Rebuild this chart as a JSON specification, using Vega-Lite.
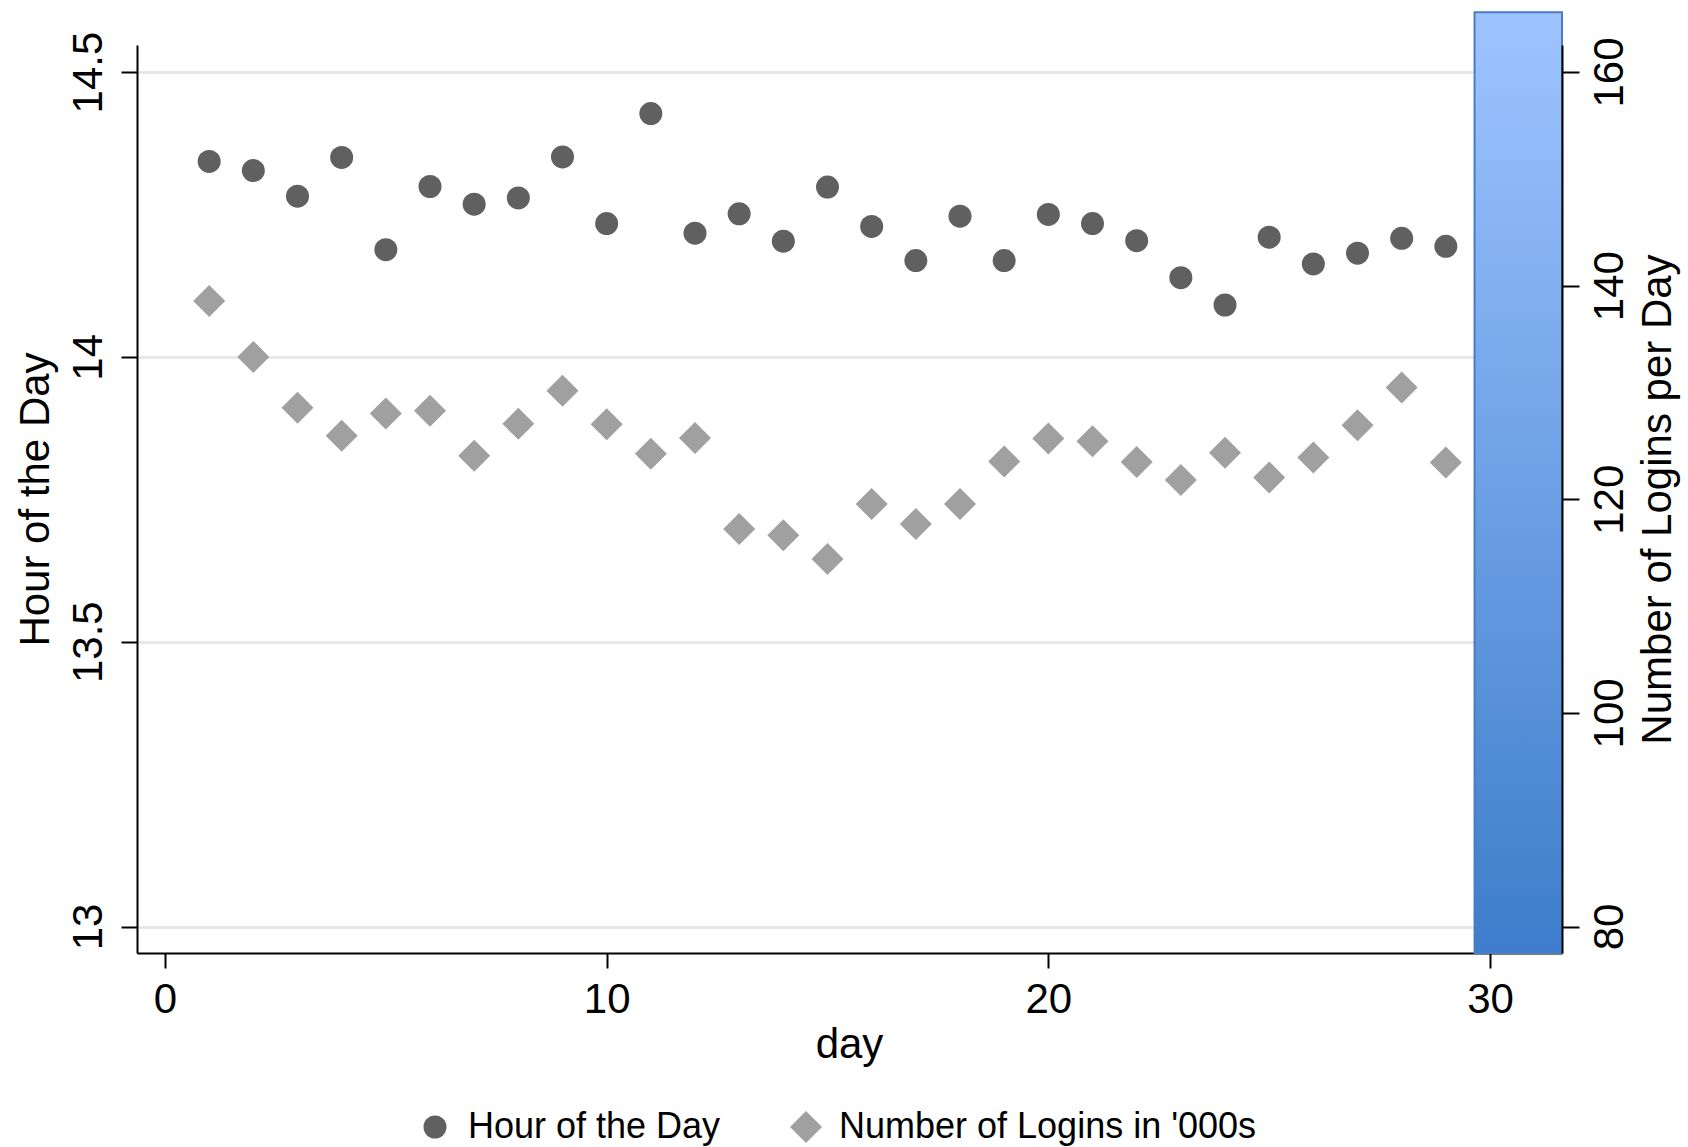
{
  "$schema": "https://vega.github.io/schema/vega-lite/v6.json",
  "width": 1425,
  "height": 908,
  "autosize": {"type": "none"},
  "padding": {"left": 137, "top": 45, "right": 126, "bottom": 194},
  "background": "white",
  "config": {
    "font": "Liberation Sans",
    "view": {"stroke": null},
    "axis": {
      "domainColor": "black",
      "domainWidth": 2,
      "tickColor": "black",
      "tickWidth": 2,
      "labelColor": "black",
      "titleColor": "black",
      "labelFont": "Liberation Sans",
      "titleFont": "Liberation Sans",
      "labelFontSize": 42,
      "titleFontSize": 42,
      "labelFontWeight": "normal",
      "titleFontWeight": "normal"
    },
    "legend": {
      "labelFont": "Liberation Sans",
      "labelFontSize": 36,
      "labelColor": "black",
      "labelLimit": 0
    }
  },
  "layer": [
    {
      "data": {
        "values": [
          {"day": 1, "hour": 14.343, "series": "Hour of the Day"},
          {"day": 2, "hour": 14.327, "series": "Hour of the Day"},
          {"day": 3, "hour": 14.282, "series": "Hour of the Day"},
          {"day": 4, "hour": 14.350, "series": "Hour of the Day"},
          {"day": 5, "hour": 14.188, "series": "Hour of the Day"},
          {"day": 6, "hour": 14.299, "series": "Hour of the Day"},
          {"day": 7, "hour": 14.268, "series": "Hour of the Day"},
          {"day": 8, "hour": 14.279, "series": "Hour of the Day"},
          {"day": 9, "hour": 14.351, "series": "Hour of the Day"},
          {"day": 10, "hour": 14.234, "series": "Hour of the Day"},
          {"day": 11, "hour": 14.427, "series": "Hour of the Day"},
          {"day": 12, "hour": 14.217, "series": "Hour of the Day"},
          {"day": 13, "hour": 14.251, "series": "Hour of the Day"},
          {"day": 14, "hour": 14.203, "series": "Hour of the Day"},
          {"day": 15, "hour": 14.298, "series": "Hour of the Day"},
          {"day": 16, "hour": 14.229, "series": "Hour of the Day"},
          {"day": 17, "hour": 14.169, "series": "Hour of the Day"},
          {"day": 18, "hour": 14.247, "series": "Hour of the Day"},
          {"day": 19, "hour": 14.169, "series": "Hour of the Day"},
          {"day": 20, "hour": 14.250, "series": "Hour of the Day"},
          {"day": 21, "hour": 14.234, "series": "Hour of the Day"},
          {"day": 22, "hour": 14.204, "series": "Hour of the Day"},
          {"day": 23, "hour": 14.139, "series": "Hour of the Day"},
          {"day": 24, "hour": 14.091, "series": "Hour of the Day"},
          {"day": 25, "hour": 14.210, "series": "Hour of the Day"},
          {"day": 26, "hour": 14.163, "series": "Hour of the Day"},
          {"day": 27, "hour": 14.182, "series": "Hour of the Day"},
          {"day": 28, "hour": 14.208, "series": "Hour of the Day"},
          {"day": 29, "hour": 14.194, "series": "Hour of the Day"}
        ]
      },
      "mark": {"type": "point", "filled": true, "opacity": 1, "strokeWidth": 0},
      "encoding": {
        "x": {
          "field": "day", "type": "quantitative",
          "scale": {"domain": [-0.634, 31.63], "nice": false, "zero": false},
          "axis": {
            "title": "day", "values": [0, 10, 20, 30], "grid": false,
            "tickSize": 15, "labelPadding": 11,
            "titleX": 712, "titleY": 104, "titleBaseline": "alphabetic", "titleAlign": "center"
          }
        },
        "y": {
          "field": "hour", "type": "quantitative",
          "scale": {"domain": [12.9535, 14.5474], "nice": false, "zero": false},
          "axis": {
            "title": "Hour of the Day", "orient": "left",
            "values": [13, 13.5, 14, 14.5], "format": "~f",
            "grid": true, "gridColor": "#e8e8e8", "gridWidth": 3,
            "tickSize": 16, "labelPadding": 20,
            "labelAngle": -90, "labelAlign": "center", "labelBaseline": "alphabetic",
            "titleAngle": -90, "titleX": -89, "titleY": 454,
            "titleAlign": "center", "titleBaseline": "alphabetic"
          }
        },
        "color": {
          "field": "series", "type": "nominal",
          "scale": {"domain": ["Hour of the Day", "Number of Logins in '000s"], "range": ["#606060", "#a0a0a0"]},
          "legend": {
            "title": null, "orient": "none", "direction": "horizontal",
            "legendX": 280, "legendY": 1064,
            "labelOffset": 15, "columnPadding": 67
          }
        },
        "shape": {
          "field": "series", "type": "nominal",
          "scale": {"domain": ["Hour of the Day", "Number of Logins in '000s"], "range": ["circle", "diamond"]}
        },
        "size": {
          "field": "series", "type": "nominal",
          "scale": {"domain": ["Hour of the Day", "Number of Logins in '000s"], "range": [529, 1024]}
        }
      }
    },
    {
      "encoding": {
        "y": {
          "field": "logins", "type": "quantitative",
          "scale": {"domain": [77.52, 162.53], "nice": false, "zero": false},
          "axis": {
            "title": "Number of Logins per Day", "orient": "right",
            "values": [80, 100, 120, 140, 160], "grid": false, "zindex": 1,
            "tickSize": 17, "labelPadding": 10,
            "labelAngle": -90, "labelAlign": "center", "labelBaseline": "top",
            "titleAngle": -90, "titleX": 108, "titleY": 454,
            "titleAlign": "center", "titleBaseline": "alphabetic"
          }
        }
      },
      "layer": [
        {
          "data": {"values": [{"start": 29.65, "end": 31.63, "logins": 165.6}]},
          "mark": {
            "type": "bar",
            "clip": false,
            "stroke": "#4a7cc2",
            "strokeWidth": 2,
            "fill": {
              "gradient": "linear", "x1": 0, "y1": 1, "x2": 0, "y2": 0,
              "stops": [
                {"offset": 0, "color": "#3d7dcb"},
                {"offset": 1, "color": "#9ec4ff"}
              ]
            }
          },
          "encoding": {
            "x": {"field": "start", "type": "quantitative", "axis": {"title": "day"}},
            "x2": {"field": "end"},
            "y2": {"datum": 77.52}
          }
        },
        {
          "data": {
            "values": [
              {"day": 1, "logins": 138.57, "series": "Number of Logins in '000s"},
              {"day": 2, "logins": 133.33, "series": "Number of Logins in '000s"},
              {"day": 3, "logins": 128.56, "series": "Number of Logins in '000s"},
              {"day": 4, "logins": 125.94, "series": "Number of Logins in '000s"},
              {"day": 5, "logins": 128.03, "series": "Number of Logins in '000s"},
              {"day": 6, "logins": 128.28, "series": "Number of Logins in '000s"},
              {"day": 7, "logins": 124.07, "series": "Number of Logins in '000s"},
              {"day": 8, "logins": 127.06, "series": "Number of Logins in '000s"},
              {"day": 9, "logins": 130.15, "series": "Number of Logins in '000s"},
              {"day": 10, "logins": 127.03, "series": "Number of Logins in '000s"},
              {"day": 11, "logins": 124.26, "series": "Number of Logins in '000s"},
              {"day": 12, "logins": 125.73, "series": "Number of Logins in '000s"},
              {"day": 13, "logins": 117.21, "series": "Number of Logins in '000s"},
              {"day": 14, "logins": 116.62, "series": "Number of Logins in '000s"},
              {"day": 15, "logins": 114.40, "series": "Number of Logins in '000s"},
              {"day": 16, "logins": 119.55, "series": "Number of Logins in '000s"},
              {"day": 17, "logins": 117.68, "series": "Number of Logins in '000s"},
              {"day": 18, "logins": 119.55, "series": "Number of Logins in '000s"},
              {"day": 19, "logins": 123.54, "series": "Number of Logins in '000s"},
              {"day": 20, "logins": 125.69, "series": "Number of Logins in '000s"},
              {"day": 21, "logins": 125.44, "series": "Number of Logins in '000s"},
              {"day": 22, "logins": 123.48, "series": "Number of Logins in '000s"},
              {"day": 23, "logins": 121.80, "series": "Number of Logins in '000s"},
              {"day": 24, "logins": 124.35, "series": "Number of Logins in '000s"},
              {"day": 25, "logins": 122.04, "series": "Number of Logins in '000s"},
              {"day": 26, "logins": 123.91, "series": "Number of Logins in '000s"},
              {"day": 27, "logins": 126.94, "series": "Number of Logins in '000s"},
              {"day": 28, "logins": 130.46, "series": "Number of Logins in '000s"},
              {"day": 29, "logins": 123.44, "series": "Number of Logins in '000s"}
            ]
          },
          "mark": {"type": "point", "filled": true, "opacity": 1, "strokeWidth": 0},
          "encoding": {
            "x": {"field": "day", "type": "quantitative", "axis": {"title": "day"}},
            "color": {"field": "series", "type": "nominal"},
            "shape": {"field": "series", "type": "nominal"},
            "size": {"field": "series", "type": "nominal"}
          }
        }
      ]
    }
  ],
  "resolve": {"scale": {"y": "independent"}}
}
